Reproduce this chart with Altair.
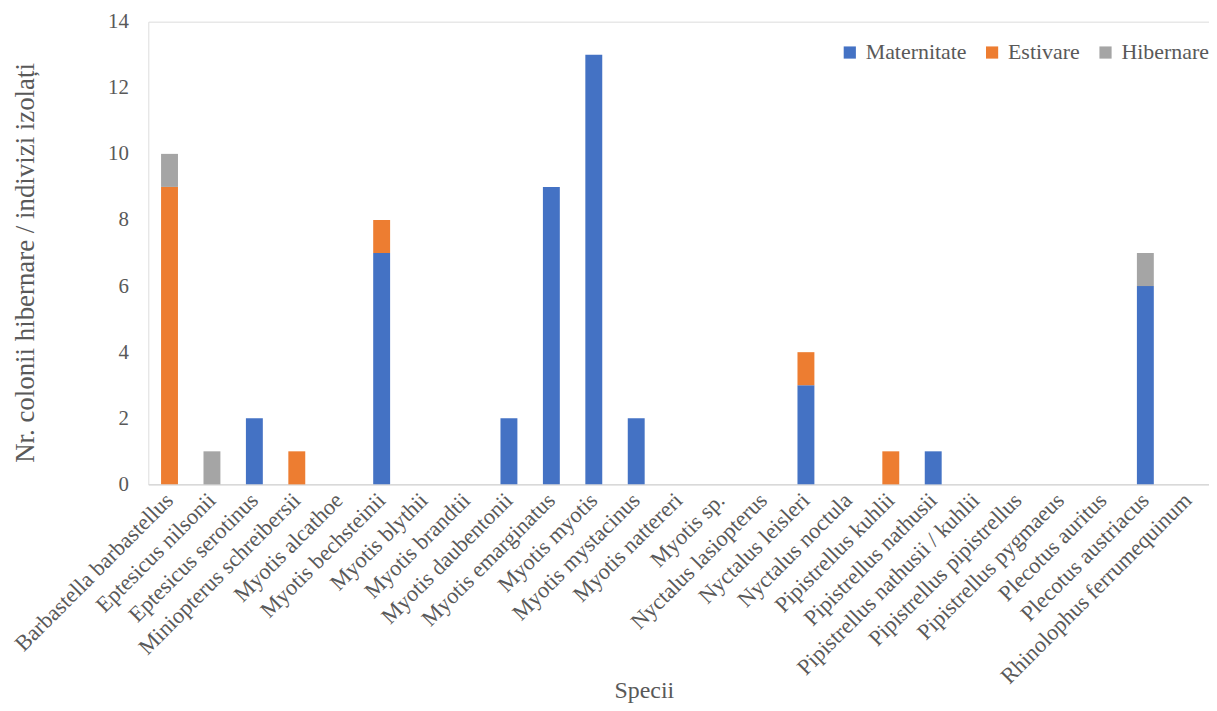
import altair as alt
import pandas as pd

species = [
    "Barbastella barbastellus", "Eptesicus nilsonii", "Eptesicus serotinus",
    "Miniopterus schreibersii", "Myotis alcathoe", "Myotis bechsteinii",
    "Myotis blythii", "Myotis brandtii", "Myotis daubentonii",
    "Myotis emarginatus", "Myotis myotis", "Myotis mystacinus",
    "Myotis nattereri", "Myotis sp.", "Nyctalus lasiopterus",
    "Nyctalus leisleri", "Nyctalus noctula", "Pipistrellus kuhlii",
    "Pipistrellus nathusii", "Pipistrellus nathusii / kuhlii",
    "Pipistrellus pipistrellus", "Pipistrellus pygmaeus", "Plecotus auritus",
    "Plecotus austriacus", "Rhinolophus ferrumequinum",
]
maternitate = [0, 0, 2, 0, 0, 7, 0, 0, 2, 9, 13, 2, 0, 0, 0, 3, 0, 0, 1, 0, 0, 0, 0, 6, 0]
estivare    = [9, 0, 0, 1, 0, 1, 0, 0, 0, 0, 0, 0, 0, 0, 0, 1, 0, 1, 0, 0, 0, 0, 0, 0, 0]
hibernare   = [1, 1, 0, 0, 0, 0, 0, 0, 0, 0, 0, 0, 0, 0, 0, 0, 0, 0, 0, 0, 0, 0, 0, 1, 0]

series = ["Maternitate", "Estivare", "Hibernare"]
colors = ["#4472C4", "#ED7D31", "#A5A5A5"]

rows = []
for i, sp in enumerate(species):
    for k, (name, vals) in enumerate(zip(series, [maternitate, estivare, hibernare])):
        rows.append({"Specii": sp, "Tip": name, "Valoare": vals[i], "ord": k})
df = pd.DataFrame(rows)

FONT = "Liberation Serif"
GREY = "#595959"

chart = alt.Chart(df).mark_bar(size=17).encode(
    x=alt.X("Specii:N", sort=species, scale=alt.Scale(paddingInner=0.6, paddingOuter=0.3),
            axis=alt.Axis(title="Specii", labelAngle=-45, labelAlign="right",
                          labelBaseline="middle", labelPadding=12, ticks=False,
                          labelLimit=0, labelOverlap=False,
                          domainColor="#D9D9D9", domainWidth=1.5,
                          labelFont=FONT, labelFontSize=22.5, labelColor=GREY,
                          titleFont=FONT, titleFontSize=24, titleColor=GREY,
                          titleFontWeight="normal", titleX=498, titleY=207,
                          titleAlign="center", titleBaseline="middle")),
    y=alt.Y("Valoare:Q", stack="zero", scale=alt.Scale(domain=[0, 14], nice=False),
            axis=alt.Axis(title="Nr. colonii hibernare / indivizi izolați",
                          values=[0, 2, 4, 6, 8, 10, 12, 14], grid=False, domain=False,
                          ticks=False, labelPadding=20, labelFont=FONT, labelFontSize=21,
                          labelColor=GREY, titleFont=FONT, titleFontSize=27,
                          titleColor=GREY, titleFontWeight="normal", titleAngle=-90,
                          titleX=-123, titleY=242, titleAlign="center",
                          titleBaseline="middle")),
    color=alt.Color("Tip:N", sort=series,
                    scale=alt.Scale(domain=series, range=colors),
                    legend=alt.Legend(title=None, orient="none", direction="horizontal",
                                      legendX=694, legendY=20, symbolType="square",
                                      symbolSize=150, symbolStrokeWidth=0,
                                      labelFont=FONT, labelFontSize=22, labelColor=GREY,
                                      columnPadding=14, labelOffset=5)),
    order=alt.Order("ord:Q"),
).properties(
    width=1066, height=465,
    autosize=alt.AutoSizeParams(type="none"),
    padding={"left": 141, "top": 12, "right": 0, "bottom": 224},
).configure_view(stroke=None).configure(background="white")

chart.save("out.html", embed_options={"renderer": "svg", "actions": False})
